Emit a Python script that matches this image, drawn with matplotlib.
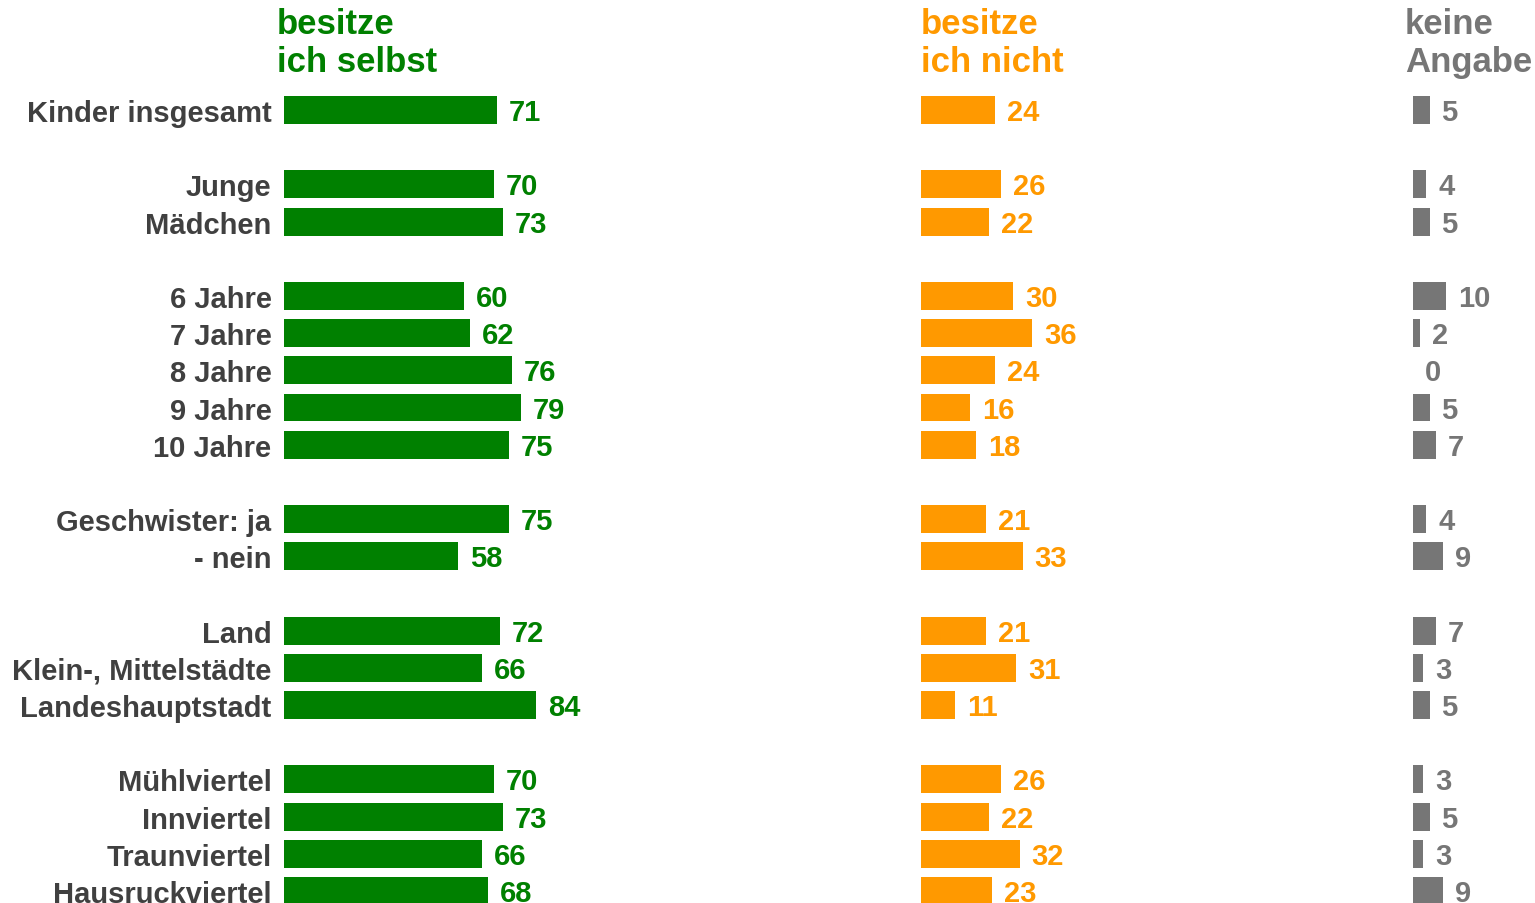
import matplotlib
matplotlib.use("Agg")
import matplotlib.pyplot as plt

plt.rcParams['font.family'] = ['Liberation Sans', 'DejaVu Sans']
plt.rcParams['font.weight'] = 'bold'

# Daten
gruppen = [
    ["Kinder insgesamt"],
    ["Junge", "Mädchen"],
    ["6 Jahre", "7 Jahre", "8 Jahre", "9 Jahre", "10 Jahre"],
    ["Geschwister: ja", "- nein"],
    ["Land", "Klein-, Mittelstädte", "Landeshauptstadt"],
    ["Mühlviertel", "Innviertel", "Traunviertel", "Hausruckviertel"],
]
selbst = [71, 70, 73, 60, 62, 76, 79, 75, 75, 58, 72, 66, 84, 70, 73, 66, 68]
nicht = [24, 26, 22, 30, 36, 24, 16, 18, 21, 33, 21, 31, 11, 26, 22, 32, 23]
keine = [5, 4, 5, 10, 2, 0, 5, 7, 4, 9, 7, 3, 5, 3, 5, 3, 9]
titel = ["besitze\nich selbst", "besitze\nich nicht", "keine\nAngabe"]
farben = ["#008000", "#FF9900", "#767676"]

# Zeilenpositionen mit Leerzeile zwischen den Gruppen
labels, ypos = [], []
i = 0
for g in gruppen:
    for name in g:
        labels.append(name)
        ypos.append(i)
        i += 1
    i += 1

W, H = 1535, 904
fig = plt.figure(figsize=(W / 100, H / 100), dpi=100)

pitch = 37.19
y0 = 111
ylim = ((H - y0) / pitch, -y0 / pitch)

# (linker Rand px, Breite px, px pro Einheit)
panels = [(284, 420, 3.0), (921, 420, 3.08), (1413, 110, 3.3)]
werte = [selbst, nicht, keine]

for k, (left, width, scale) in enumerate(panels):
    ax = fig.add_axes([left / W, 0, width / W, 1])
    ax.barh(ypos, werte[k], height=0.75, color=farben[k])
    for y, v in zip(ypos, werte[k]):
        ax.annotate(str(v), (v, y), xytext=(12, -2), textcoords='offset pixels',
                    va='center', ha='left', fontsize=21, fontweight='bold',
                    color=farben[k])
    ax.set_xlim(0, width / scale)
    ax.set_ylim(*ylim)
    for s in ax.spines.values():
        s.set_visible(False)
    ax.set_xticks([])
    if k == 0:
        ax.set_yticks(ypos)
        ax.set_yticklabels(labels, fontsize=21, fontweight='bold', color="#404040")
        ax.tick_params(axis='y', length=0, pad=9)
    else:
        ax.set_yticks([])
    ax.patch.set_visible(False)

# Spaltenüberschriften
for (x, t, c) in zip([277, 921, 1405], titel, farben):
    fig.text(x / W, 1 - 8 / H, t, ha='left', va='top', fontsize=25,
             fontweight='bold', color=c, linespacing=1.2)

fig.savefig("out.png", dpi=100)
